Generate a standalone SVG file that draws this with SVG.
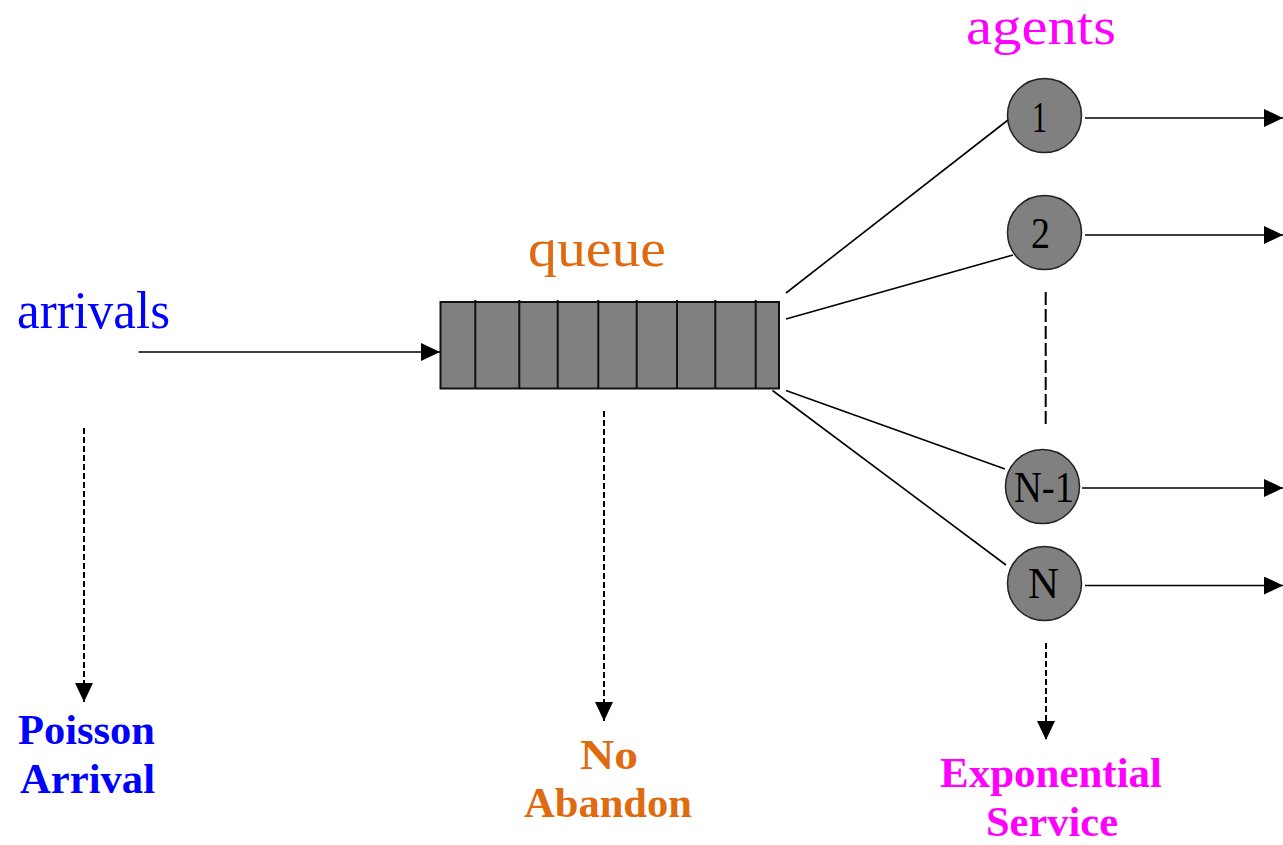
<svg xmlns="http://www.w3.org/2000/svg" width="1283" height="845" viewBox="0 0 1283 845">
<style>
.lbl{font-family:"Liberation Serif","Times New Roman",serif;}
.big{font-size:52px;}
.bold{font-size:42px;font-weight:bold;}
.blue{fill:#0000FF;}
.orange{fill:#E06A10;}
.mag{fill:#FF00FF;}
.agent circle{fill:#808080;stroke:#222;stroke-width:1.5;}
.agent text{font-family:"Liberation Serif","Times New Roman",serif;font-size:44px;fill:#000;text-anchor:start;}
.ln{stroke:#000;stroke-width:1.6;fill:none;}
.dash{stroke:#000;stroke-width:2;fill:none;stroke-dasharray:6 3;}
</style>
<defs>
<marker id="ah" markerUnits="userSpaceOnUse" markerWidth="20" markerHeight="18" refX="19" refY="9" orient="auto">
<path d="M0,0 L19,9 L0,18 Z" fill="#000"/>
</marker>
</defs>
<rect width="1283" height="845" fill="#fff"/>

<g id="labels">
<text class="lbl big blue" x="17" y="328" textLength="153" lengthAdjust="spacingAndGlyphs">arrivals</text>
<text class="lbl big orange" x="528" y="266" textLength="138" lengthAdjust="spacingAndGlyphs">queue</text>
<text class="lbl big mag" x="966" y="44" textLength="150" lengthAdjust="spacingAndGlyphs">agents</text>
<text class="lbl bold blue" x="18" y="744" textLength="137" lengthAdjust="spacingAndGlyphs">Poisson</text>
<text class="lbl bold blue" x="20" y="793" textLength="135" lengthAdjust="spacingAndGlyphs">Arrival</text>
<text class="lbl bold orange" x="580" y="769" textLength="58" lengthAdjust="spacingAndGlyphs">No</text>
<text class="lbl bold orange" x="524" y="817" textLength="168" lengthAdjust="spacingAndGlyphs">Abandon</text>
<text class="lbl bold mag" x="940" y="787" textLength="222" lengthAdjust="spacingAndGlyphs">Exponential</text>
<text class="lbl bold mag" x="986" y="836" textLength="132" lengthAdjust="spacingAndGlyphs">Service</text>
</g>

<g id="queue">
<rect x="440.5" y="302" width="338.5" height="86.5" fill="#808080" stroke="#111" stroke-width="2"/>
<g stroke="#111" stroke-width="2">
<line x1="475.3" y1="300" x2="475.3" y2="388.5"/>
<line x1="519.3" y1="300" x2="519.3" y2="388.5"/>
<line x1="557.7" y1="300" x2="557.7" y2="388.5"/>
<line x1="598.3" y1="300" x2="598.3" y2="388.5"/>
<line x1="636.7" y1="300" x2="636.7" y2="388.5"/>
<line x1="677" y1="300" x2="677" y2="388.5"/>
<line x1="715.3" y1="300" x2="715.3" y2="388.5"/>
<line x1="755.7" y1="300" x2="755.7" y2="388.5"/>
</g>
</g>

<g id="agent-1" class="agent">
<circle cx="1044.5" cy="115.5" r="37"/>
<text x="1032" y="132" textLength="15" lengthAdjust="spacingAndGlyphs">1</text>
</g>
<g id="agent-2" class="agent">
<circle cx="1044.5" cy="232.5" r="37"/>
<text x="1031" y="248" textLength="19" lengthAdjust="spacingAndGlyphs">2</text>
</g>
<g id="agent-n1" class="agent">
<circle cx="1042.5" cy="486.5" r="37"/>
<text x="1014" y="502" textLength="60" lengthAdjust="spacingAndGlyphs">N-1</text>
</g>
<g id="agent-n" class="agent">
<circle cx="1044.5" cy="583.5" r="37"/>
<text x="1028" y="598" textLength="31" lengthAdjust="spacingAndGlyphs">N</text>
</g>

<g id="connectors">
<line class="ln" x1="138.5" y1="352" x2="440" y2="352" marker-end="url(#ah)"/>
<line class="ln" x1="786" y1="293" x2="1008" y2="120"/>
<line class="ln" x1="786" y1="319" x2="1013" y2="255"/>
<line class="ln" x1="786" y1="390.5" x2="1005" y2="469"/>
<line class="ln" x1="772.5" y1="390.5" x2="1006" y2="565"/>
<line class="ln" x1="1085" y1="118" x2="1283" y2="118" marker-end="url(#ah)"/>
<line class="ln" x1="1085" y1="235" x2="1283" y2="235" marker-end="url(#ah)"/>
<line class="ln" x1="1082" y1="488" x2="1283" y2="488" marker-end="url(#ah)"/>
<line class="ln" x1="1085" y1="585.5" x2="1283" y2="585.5" marker-end="url(#ah)"/>
<line x1="1045.7" y1="292" x2="1045.7" y2="426" stroke="#000" stroke-width="2" stroke-dasharray="13 4"/>
<line class="dash" x1="84" y1="428" x2="84" y2="702" marker-end="url(#ah)"/>
<line class="dash" x1="604" y1="411" x2="604" y2="721" marker-end="url(#ah)"/>
<line class="dash" x1="1046" y1="643" x2="1046" y2="740" stroke-dasharray="8 3" marker-end="url(#ah)"/>
</g>
</svg>
